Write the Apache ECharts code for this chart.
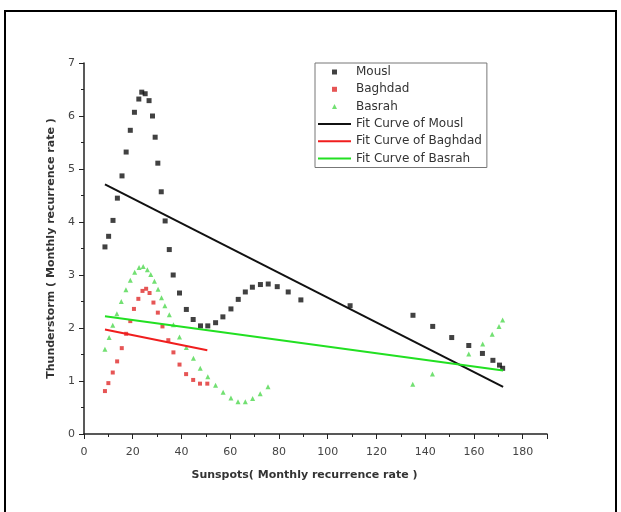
<!DOCTYPE html>
<html>
<head>
<meta charset="utf-8">
<script src="https://cdn.jsdelivr.net/npm/echarts@6/dist/echarts.min.js"></script>
<style>
  html, body { margin: 0; padding: 0; background: #fff; }
  #chart { width: 621px; height: 512px; }
</style>
</head>
<body>
<div id="chart"></div>
<script>
// sunspots (x) vs thunderstorm rate (y)
var mouslX = [8.6, 10.1, 11.9, 13.7, 15.6, 17.3, 19.0, 20.7, 22.5, 23.7, 25.1, 26.7, 28.1, 29.2, 30.3, 31.7, 33.3,
  35.0, 36.6, 39.2, 42.0, 44.8, 47.8, 50.8, 54.0, 57.0, 60.3, 63.3, 66.2, 69.1, 72.4, 75.6, 79.3, 83.8, 89.0,
  109.2, 135.0, 143.1, 150.9, 157.9, 163.5, 167.8, 170.5, 171.8];
var mouslY = [3.53, 3.73, 4.03, 4.45, 4.87, 5.32, 5.73, 6.07, 6.32, 6.45, 6.42, 6.29, 6.0, 5.6, 5.11, 4.57, 4.02,
  3.48, 3.0, 2.66, 2.35, 2.16, 2.04, 2.04, 2.1, 2.21, 2.36, 2.54, 2.68, 2.77, 2.82, 2.83, 2.78, 2.68, 2.53,
  2.42, 2.24, 2.03, 1.82, 1.67, 1.52, 1.39, 1.30, 1.24];

var baghdadX = [8.6, 10.0, 11.8, 13.6, 15.5, 17.3, 19.0, 20.5, 22.3, 24.0, 25.5, 26.9, 28.5, 30.3, 32.2, 34.6,
  36.7, 39.2, 41.9, 44.8, 47.6, 50.6];
var baghdadY = [0.81, 0.96, 1.16, 1.37, 1.62, 1.89, 2.13, 2.36, 2.55, 2.70, 2.74, 2.66, 2.48, 2.29, 2.03, 1.77,
  1.54, 1.31, 1.13, 1.02, 0.95, 0.95];

var basrahX = [8.6, 10.3, 11.8, 13.5, 15.3, 17.2, 19.0, 20.8, 22.6, 24.3, 26.0, 27.4, 28.9, 30.4, 31.8, 33.2,
  35.0, 36.7, 39.2, 42.0, 44.9, 47.7, 50.8, 54.0, 57.1, 60.3, 63.2, 66.2, 69.2, 72.3, 75.5,
  134.9, 143.0, 157.9, 163.6, 167.5, 170.3, 171.8];
var basrahY = [1.60, 1.82, 2.05, 2.27, 2.50, 2.72, 2.90, 3.05, 3.14, 3.16, 3.10, 3.01, 2.88, 2.73, 2.57, 2.42,
  2.25, 2.06, 1.83, 1.63, 1.43, 1.24, 1.08, 0.92, 0.79, 0.68, 0.61, 0.61, 0.67, 0.76, 0.89,
  0.94, 1.13, 1.51, 1.70, 1.88, 2.03, 2.15];

// fitted straight lines, end points
var mouslFitX = [8.6, 172];
var mouslFitY = [4.71, 0.89];
var baghdadFitX = [8.6, 50.6];
var baghdadFitY = [1.97, 1.58];
var basrahFitX = [8.6, 172];
var basrahFitY = [2.22, 1.20];

function pairs(xs, ys){
  var out = [];
  xs.forEach(function(x, i){ out.push([x, ys[i]]) });
  return out;
}

var fontFamily = '"DejaVu Sans", sans-serif';
var squareIcon = 'path://M0,0L10,0L10,10L0,10Z';
var triangleIcon = 'path://M5,0L10,10L0,10Z';
var hideDot = { opacity: 0 };

var option = {
  animation: false,
  backgroundColor: '#fff',
  textStyle: { fontFamily: fontFamily },
  graphic: [
    {
      type: 'rect',
      shape: { x: 5, y: 11, width: 611, height: 520 },
      style: { fill: 'none', stroke: '#000', lineWidth: 2 },
      silent: true
    }
  ],
  legend: {
    data: [
      { name: 'Mousl', icon: squareIcon },
      { name: 'Baghdad', icon: squareIcon },
      { name: 'Basrah', icon: triangleIcon },
      { name: 'Fit Curve of Mousl', itemStyle: hideDot },
      { name: 'Fit Curve of Baghdad', itemStyle: hideDot },
      { name: 'Fit Curve of Basrah', itemStyle: hideDot }
    ],
    orient: 'vertical',
    left: 315,
    top: 63,
    padding: [3, 5, 3, 2],
    itemWidth: 33,
    itemHeight: 5,
    itemGap: 5.3,
    symbolKeepAspect: true,
    borderColor: '#777',
    borderWidth: 1,
    textStyle: { fontSize: 12, color: '#333', fontFamily: fontFamily }
  },
  grid: { left: 84, right: 74, top: 63, bottom: 78 },
  xAxis: {
    type: 'value',
    min: 0,
    max: 190,
    interval: 20,
    name: 'Sunspots( Monthly recurrence rate )',
    nameLocation: 'middle',
    nameGap: 36,
    nameTextStyle: { fontSize: 11, fontWeight: 'bold', color: '#333', padding: [0, 22, 0, 0] },
    axisLine: { lineStyle: { color: '#222', width: 1.5 } },
    axisTick: { length: 5, lineStyle: { color: '#222' } },
    minorTick: { show: true, splitNumber: 2, length: 3, lineStyle: { color: '#222' } },
    axisLabel: { fontSize: 11, color: '#444', margin: 13, showMaxLabel: false },
    splitLine: { show: false }
  },
  yAxis: {
    type: 'value',
    min: 0,
    max: 7,
    interval: 1,
    name: 'Thunderstorm ( Monthly recurrence rate )',
    nameLocation: 'middle',
    nameGap: 24,
    nameTextStyle: { fontSize: 11, fontWeight: 'bold', color: '#333' },
    axisLine: { lineStyle: { color: '#222', width: 1.5 } },
    axisTick: { length: 5, lineStyle: { color: '#222' } },
    minorTick: { show: true, splitNumber: 2, length: 3, lineStyle: { color: '#222' } },
    axisLabel: { fontSize: 11, color: '#444', margin: 9 },
    splitLine: { show: false }
  },
  series: [
    {
      name: 'Mousl',
      type: 'scatter',
      symbol: 'rect',
      symbolSize: 5,
      itemStyle: { color: '#111' },
      data: pairs(mouslX, mouslY)
    },
    {
      name: 'Baghdad',
      type: 'scatter',
      symbol: 'rect',
      symbolSize: 4,
      itemStyle: { color: '#e02a2a' },
      data: pairs(baghdadX, baghdadY)
    },
    {
      name: 'Basrah',
      type: 'scatter',
      symbol: 'triangle',
      symbolSize: 5,
      itemStyle: { color: '#4fd84f' },
      data: pairs(basrahX, basrahY)
    },
    {
      name: 'Fit Curve of Mousl',
      type: 'line',
      symbol: 'none',
      itemStyle: { color: '#111' },
      lineStyle: { color: '#111', width: 2 },
      data: pairs(mouslFitX, mouslFitY)
    },
    {
      name: 'Fit Curve of Baghdad',
      type: 'line',
      symbol: 'none',
      itemStyle: { color: '#f01e1e' },
      lineStyle: { color: '#f01e1e', width: 2 },
      data: pairs(baghdadFitX, baghdadFitY)
    },
    {
      name: 'Fit Curve of Basrah',
      type: 'line',
      symbol: 'none',
      itemStyle: { color: '#22e022' },
      lineStyle: { color: '#22e022', width: 2 },
      data: pairs(basrahFitX, basrahFitY)
    }
  ]
};

var chart_div = echarts.init(document.getElementById('chart'), null, { renderer: 'canvas' });
chart_div.setOption(option);
</script>
</body>
</html>
